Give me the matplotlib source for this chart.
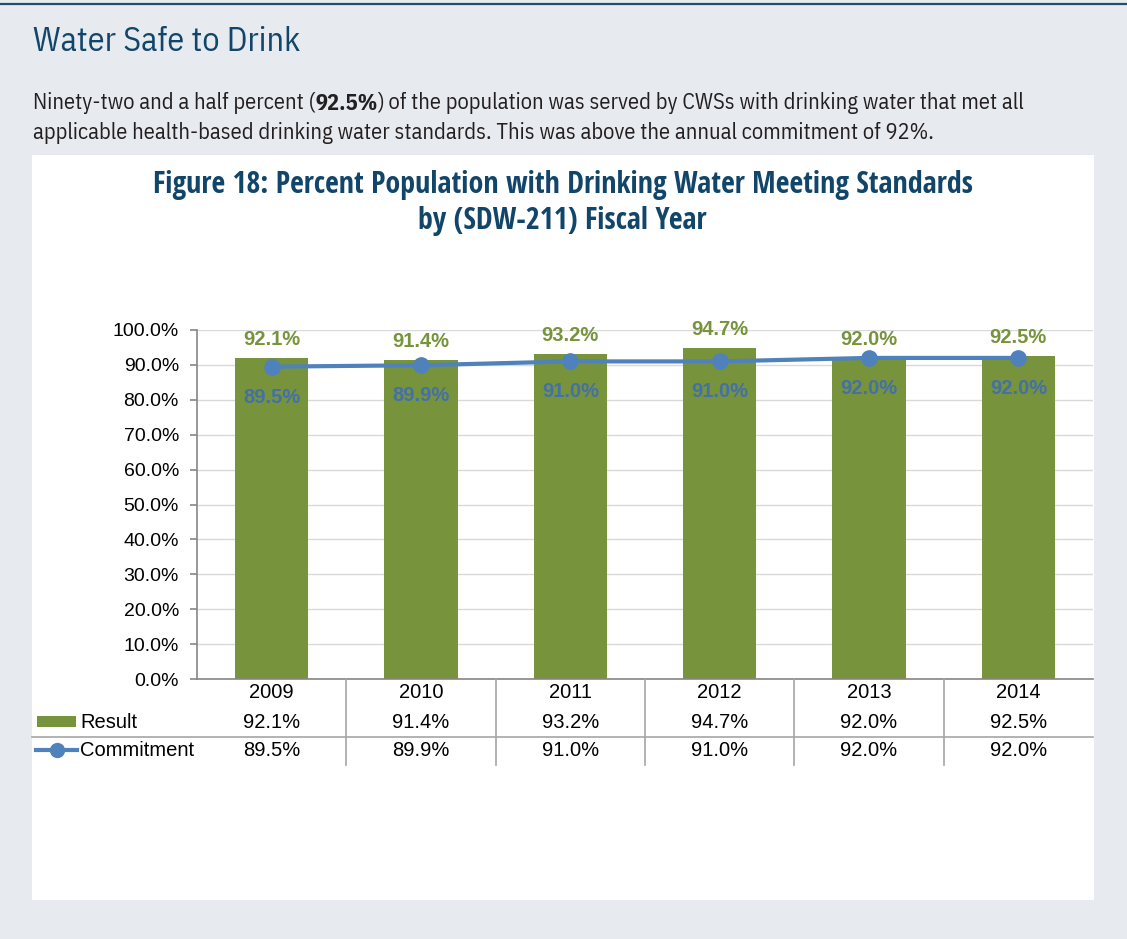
import matplotlib
matplotlib.use("Agg")
import matplotlib.pyplot as plt
from matplotlib.patches import Rectangle
from matplotlib.lines import Line2D

years = ["2009", "2010", "2011", "2012", "2013", "2014"]
result = [92.1, 91.4, 93.2, 94.7, 92.0, 92.5]
commitment = [89.5, 89.9, 91.0, 91.0, 92.0, 92.0]
y_ticks = [0, 10, 20, 30, 40, 50, 60, 70, 80, 90, 100]

heading = "Water Safe to Drink"
para_a = "Ninety-two and a half percent ("
para_b = "92.5%"
para_c = ") of the population was served by CWSs with drinking water that met all"
para_2 = "applicable health-based drinking water standards. This was above the annual commitment of 92%."
title_1 = "Figure 18: Percent Population with Drinking Water Meeting Standards"
title_2 = "by (SDW-211) Fiscal Year"

GREEN = "#77933C"
BLUE = "#4F81BD"
BLUE_LABEL = "#4470A8"
NAVY = "#11466A"
PANEL = "#E7EAEF"
TEXT = "#231F20"

COND = ["IBM Plex Sans Condensed", "Liberation Sans"]
COND_BOLD = ["Open Sans Condensed", "IBM Plex Sans Condensed", "Liberation Sans"]
ARIAL = ["Liberation Sans", "DejaVu Sans"]

W, H = 1127, 939
fig = plt.figure(figsize=(W / 100, H / 100), dpi=100)
fig.patch.set_facecolor(PANEL)
renderer = fig.canvas.get_renderer()


def fx(px):
    return px / W


def fy(py):
    return 1 - py / H


def fitted(x_px, y_px, s, width_px, ha="left", **kw):
    """Place a text and size it so that it spans width_px pixels."""
    t = fig.text(fx(x_px), fy(y_px), s, fontsize=10, ha=ha, va="center", **kw)
    w = t.get_window_extent(renderer=renderer).width
    t.set_fontsize(10 * width_px / w)
    return t


# page panel: top rule and white chart card
fig.add_artist(Line2D([0, 1], [fy(3.5), fy(3.5)], color="#1F4E6E", lw=1.6,
                      transform=fig.transFigure))
fig.add_artist(Rectangle((fx(32), fy(900)), fx(1094) - fx(32), fy(155) - fy(900),
                         transform=fig.transFigure, facecolor="white",
                         edgecolor="none", zorder=0))

fitted(33, 42, heading, 266, family=COND, color=NAVY)

# intro paragraph, first line built in three runs to embolden the figure
line2 = fitted(33, 133, para_2, 895, family=COND, color=TEXT)
fs = line2.get_fontsize()
ta = fig.text(fx(33), fy(103), para_a, family=COND, fontsize=fs, color=TEXT,
              va="center", ha="left")
xa = ta.get_window_extent(renderer=renderer).x1
tb = fig.text(xa / W, fy(103), para_b, family=COND, fontsize=fs, color=TEXT,
              fontweight="bold", va="center", ha="left")
xb = tb.get_window_extent(renderer=renderer).x1
fig.text(xb / W, fy(103), para_c, family=COND, fontsize=fs, color=TEXT,
         va="center", ha="left")

t1 = fitted(562.5, 185, title_1, 821, ha="center", family=COND_BOLD,
            fontweight="bold", color=NAVY)
fig.text(fx(562.5), fy(221), title_2, family=COND_BOLD, fontweight="bold",
         fontsize=t1.get_fontsize(), color=NAVY, ha="center", va="center")

# plotting area
ax_left, ax_right = 197, 1093
ax_top, ax_bottom = 330, 679
ax = fig.add_axes([fx(ax_left), fy(ax_bottom), fx(ax_right) - fx(ax_left),
                   fy(ax_top) - fy(ax_bottom)])
ax.set_facecolor("white")
n = len(years)
x = list(range(n))
ax.set_xlim(-0.5, n - 0.5)
ax.set_ylim(0, 100)

ax.bar(x, result, width=0.49, color=GREEN, zorder=2)
ax.plot(x, commitment, color=BLUE, lw=3, marker="o", markersize=11,
        zorder=3, solid_capstyle="round")

for xi, rv, cv in zip(x, result, commitment):
    ax.annotate(f"{rv:.1f}%", (xi, rv), xytext=(0, 6.5), textcoords="offset points",
                ha="center", va="bottom", color=GREEN, fontsize=14.5,
                fontweight="bold", family=ARIAL)
    ax.annotate(f"{cv:.1f}%", (xi, cv), xytext=(0, -22), textcoords="offset points",
                ha="center", va="center", color=BLUE_LABEL, fontsize=14.5,
                fontweight="bold", family=ARIAL)

ax.set_yticks(y_ticks)
ax.set_yticklabels([f"{v:.1f}%" for v in y_ticks], family=ARIAL, fontsize=14)
ax.yaxis.grid(True, color="#D9D9D9", lw=1, zorder=0)
ax.set_axisbelow(True)
ax.set_xticks([])
for s in ("top", "right"):
    ax.spines[s].set_visible(False)
for s in ("left", "bottom"):
    ax.spines[s].set_color("#868686")
    ax.spines[s].set_linewidth(1.2)
ax.tick_params(axis="y", length=5, color="#868686", width=1.2, pad=8)

# data table under the plot
cat_w = (ax_right - ax_left) / n
row_y = [693, 722, 751]
for i, yr in enumerate(years):
    cx = ax_left + cat_w * (i + 0.5)
    fig.text(fx(cx), fy(row_y[0]), yr, family=ARIAL, fontsize=14.5,
             ha="center", va="center", color="black")
    fig.text(fx(cx), fy(row_y[1]), f"{result[i]:.1f}%", family=ARIAL,
             fontsize=14.5, ha="center", va="center", color="black")
    fig.text(fx(cx), fy(row_y[2]), f"{commitment[i]:.1f}%", family=ARIAL,
             fontsize=14.5, ha="center", va="center", color="black")
for i in range(1, n):
    bx = ax_left + cat_w * i
    fig.add_artist(Line2D([fx(bx), fx(bx)], [fy(679), fy(765)], color="#A6A6A6",
                          lw=1.2, transform=fig.transFigure))
fig.add_artist(Line2D([fx(32), fx(ax_right)], [fy(737), fy(737)], color="#A6A6A6",
                      lw=1.2, transform=fig.transFigure))

# row legend keys
fig.add_artist(Rectangle((fx(37), fy(727)), fx(76) - fx(37), fy(716) - fy(727),
                         transform=fig.transFigure, facecolor=GREEN,
                         edgecolor="none"))
fig.add_artist(Line2D([fx(36), fx(77)], [fy(750), fy(750)], color=BLUE, lw=3,
                      transform=fig.transFigure))
fig.add_artist(Line2D([fx(57)], [fy(750)], color=BLUE, marker="o", markersize=10,
                      lw=0, transform=fig.transFigure))
fig.text(fx(80), fy(row_y[1]), "Result", family=ARIAL, fontsize=14.5,
         ha="left", va="center", color="black")
fig.text(fx(80), fy(row_y[2]), "Commitment", family=ARIAL, fontsize=14.5,
         ha="left", va="center", color="black")

fig.savefig("out.png", dpi=100, facecolor=fig.get_facecolor())
